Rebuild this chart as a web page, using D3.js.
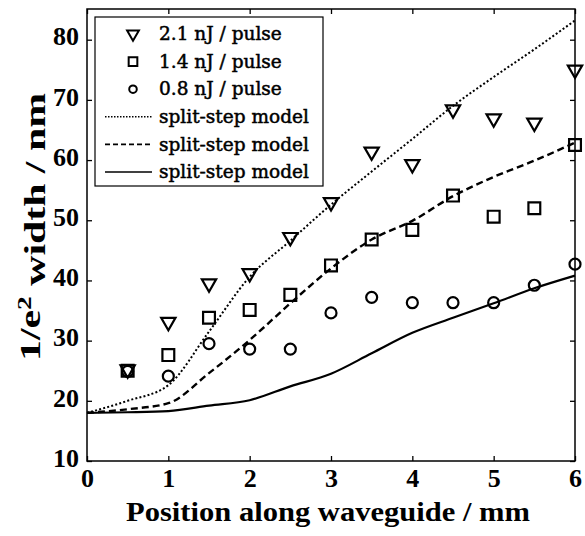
<!DOCTYPE html>
<html>
<head>
<meta charset="utf-8">
<script src="https://cdn.jsdelivr.net/npm/d3@7"></script>
<style>
  body { margin: 0; background: #fff; }
  svg { display: block; }
</style>
</head>
<body>
<svg width="585" height="536"></svg>
<script>
"use strict";
// measured points, positions in mm, widths in nm
const positions = [0.5, 1, 1.5, 2, 2.5, 3, 3.5, 4, 4.5, 5, 5.5, 6];
const width21 = [25.2, 33.1, 39.5, 41.2, 47.2, 53.0, 61.4, 59.3, 68.4, 66.9, 66.2, 75.0];
const width14 = [25.0, 27.6, 33.8, 35.1, 37.6, 42.5, 46.8, 48.4, 54.1, 50.6, 52.0, 62.5];
const width08 = [24.9, 24.1, 29.5, 28.6, 28.6, 34.6, 37.2, 36.3, 36.3, 36.3, 39.2, 42.7];

// split-step model curves
const modelX = [0, 0.5, 1, 1.5, 2, 2.5, 3, 3.5, 4, 4.5, 5, 5.5, 6];
const model21 = [18, 20, 22.6, 31.5, 40.6, 46.6, 52.6, 58.1, 63.5, 69.0, 73.8, 78.4, 83.2];
const model14 = [18, 18.6, 19.6, 24.6, 30.1, 36.2, 42.0, 46.8, 49.9, 54.0, 57.2, 59.9, 62.9];
const model08 = [18, 18.1, 18.3, 19.2, 20.1, 22.4, 24.5, 27.9, 31.3, 33.8, 36.2, 38.7, 40.8];

const xTicks = [0, 1, 2, 3, 4, 5, 6];
const yTicks = [10, 20, 30, 40, 50, 60, 70, 80];
const legendLabels = ["2.1 nJ / pulse", "1.4 nJ / pulse", "0.8 nJ / pulse",
                      "split-step model", "split-step model", "split-step model"];

window.addEventListener("load", drawChart);

function drawChart() {
    const svg = d3.select("svg");
    const left = 87, right = 575, top = 9, bottom = 461;
    const serif = "'Liberation Serif', 'Times New Roman', serif";

    const x = d3.scaleLinear().domain([0, 6]).range([left, right]);
    const y = d3.scaleLinear().domain([10, 85.1]).range([bottom, top]);

    // frame
    svg.append("rect")
        .attr("x", left).attr("y", top)
        .attr("width", right - left).attr("height", bottom - top)
        .attr("fill", "none").attr("stroke", "#000").attr("stroke-width", 1.5);

    // inward ticks on all four sides
    const tickLen = 5;
    svg.append("g")
        .attr("transform", `translate(0,${bottom})`)
        .call(d3.axisBottom(x).tickValues(xTicks).tickSize(-tickLen).tickPadding(8).tickFormat(d3.format("d")));
    svg.append("g")
        .attr("transform", `translate(0,${top})`)
        .call(d3.axisTop(x).tickValues(xTicks).tickSize(-tickLen).tickFormat(""));
    const leftAxis = svg.append("g")
        .attr("transform", `translate(${left},0)`)
        .call(d3.axisLeft(y).tickValues(yTicks).tickSize(-tickLen).tickPadding(8).tickFormat(d3.format("d")));
    svg.append("g")
        .attr("transform", `translate(${right},0)`)
        .call(d3.axisRight(y).tickValues(yTicks).tickSize(-tickLen).tickFormat(""));

    svg.selectAll(".domain").remove();
    svg.selectAll(".tick line").attr("stroke", "#000").attr("stroke-width", 1.3);
    svg.selectAll(".tick text")
        .attr("fill", "#000")
        .style("font-family", serif)
        .style("font-weight", "bold")
        .style("font-size", "26px");
    leftAxis.selectAll(".tick text").attr("dy", "0.2em");

    // axis titles
    svg.append("text")
        .attr("x", 328)
        .attr("y", 521)
        .attr("text-anchor", "middle")
        .attr("textLength", 404)
        .attr("lengthAdjust", "spacingAndGlyphs")
        .style("font-family", serif)
        .style("font-weight", "bold")
        .style("font-size", "28px")
        .text("Position along waveguide / mm");

    const yTitle = svg.append("text")
        .attr("transform", `translate(40 227) rotate(-90)`)
        .attr("text-anchor", "middle")
        .attr("textLength", 268)
        .attr("lengthAdjust", "spacingAndGlyphs")
        .style("font-family", serif)
        .style("font-weight", "bold")
        .style("font-size", "29px");
    yTitle.append("tspan").text("1/e");
    yTitle.append("tspan").attr("dy", "-0.45em").style("font-size", "19px").text("2");
    yTitle.append("tspan").attr("dy", "0.45em").text(" width / nm");

    // model lines
    const line = d3.line()
        .x((d, i) => x(modelX[i]))
        .y(d => y(d))
        .curve(d3.curveMonotoneX);
    const lineStyles = [
        { data: model21, dash: "2,2.2", width: 2 },
        { data: model14, dash: "7,4", width: 2.4 },
        { data: model08, dash: null, width: 2.2 }
    ];
    lineStyles.forEach(s => {
        svg.append("path")
            .attr("d", line(s.data))
            .attr("fill", "none")
            .attr("stroke", "#000")
            .attr("stroke-width", s.width)
            .attr("stroke-dasharray", s.dash);
    });

    // markers
    const tri = d3.symbol().type(d3.symbolTriangle).size(88);
    const sq = d3.symbol().type(d3.symbolSquare).size(140);
    const circ = d3.symbol().type(d3.symbolCircle).size(95);

    function drawMarkers(values, sym, rotate) {
        svg.append("g").selectAll("path")
            .data(values)
            .join("path")
            .attr("d", sym)
            .attr("transform", (d, i) => `translate(${x(positions[i])},${y(d)})` + (rotate ? " rotate(180)" : ""))
            .attr("fill", "none")
            .attr("stroke", "#000")
            .attr("stroke-width", 2.2);
    }
    drawMarkers(width21, tri, true);
    drawMarkers(width14, sq, false);
    drawMarkers(width08, circ, false);

    // legend
    const lg = svg.append("g");
    lg.append("rect")
        .attr("x", 95).attr("y", 17)
        .attr("width", 228).attr("height", 169)
        .attr("fill", "#fff").attr("stroke", "#000").attr("stroke-width", 1.2);
    const rowY = i => 34 + i * 27.6;
    const legendSyms = [
        d3.symbol().type(d3.symbolTriangle).size(60),
        d3.symbol().type(d3.symbolSquare).size(75),
        d3.symbol().type(d3.symbolCircle).size(45)
    ];
    legendLabels.forEach((label, i) => {
        if (i < 3) {
            lg.append("path")
                .attr("d", legendSyms[i])
                .attr("transform", `translate(133,${rowY(i)})` + (i === 0 ? " rotate(180)" : ""))
                .attr("fill", "none").attr("stroke", "#000").attr("stroke-width", 2);
        } else {
            lg.append("line")
                .attr("x1", 105).attr("x2", 152)
                .attr("y1", rowY(i)).attr("y2", rowY(i))
                .attr("stroke", "#000")
                .attr("stroke-width", 1.6)
                .attr("stroke-dasharray", i === 3 ? "1.5,1.5" : i === 4 ? "5,3" : null);
        }
        lg.append("text")
            .attr("x", 159)
            .attr("y", rowY(i))
            .attr("dy", "0.33em")
            .attr("fill", "#000")
            .attr("stroke", "#000")
            .attr("stroke-width", 0.5)
            .style("font-family", "'DejaVu Serif', serif")
            .style("font-size", "18.5px")
            .text(label);
    });
}
</script>
</body>
</html>
